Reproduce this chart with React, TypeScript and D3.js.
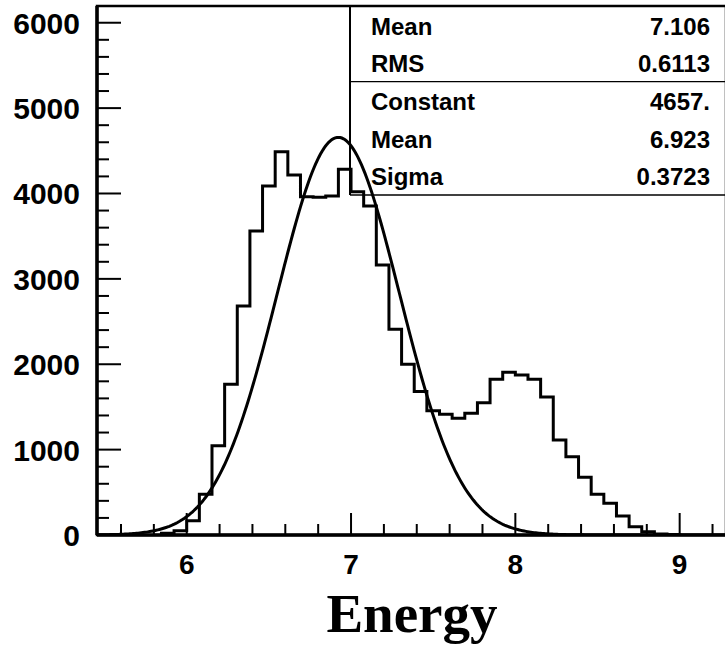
import React, { useEffect, useRef } from "react";
import * as d3 from "d3";

// histogram: bins of width 1/13 starting at binStart
const binStart = 6 - 2 / 13;
const binWidth = 1 / 13;
const counts = [
  20, 50, 167, 476, 1046, 1765, 2682, 3560, 4087, 4489, 4216, 3962, 3955,
  3970, 4283, 4021, 3853, 3162, 2409, 1999, 1680, 1455, 1413, 1367, 1425,
  1550, 1823, 1905, 1874, 1823, 1615, 1113, 917, 676, 477, 371, 222, 97, 39,
  12, 5,
];

// gaus fit parameters (from the stats box)
const fitConstant = 4657;
const fitMean = 6.923;
const fitSigma = 0.3723;

const statsTop = [
  ["Mean", "7.106"],
  ["RMS", "0.6113"],
];
const statsFit = [
  ["Constant", "4657."],
  ["Mean", "6.923"],
  ["Sigma", "0.3723"],
];

const xMajor = [6, 7, 8, 9];
const yMajor = [0, 1000, 2000, 3000, 4000, 5000, 6000];

const W = 725;
const H = 645;

const App: React.FC = () => {
  const svgRef = useRef<SVGSVGElement | null>(null);

  useEffect(() => {
    document.body.style.margin = "0";
    if (!svgRef.current) return;
    const svg = d3.select(svgRef.current);
    svg.selectAll("*").remove();

    const left = 97;
    const right = 726;
    const top = 6;
    const bottom = 535;

    const x = d3.scaleLinear().domain([5.454, 9.282]).range([left, right]);
    const y = d3.scaleLinear().domain([0, 6196]).range([bottom, top]);

    svg
      .append("defs")
      .append("clipPath")
      .attr("id", "frame")
      .append("rect")
      .attr("x", left)
      .attr("y", top)
      .attr("width", right - left)
      .attr("height", bottom - top);

    const plot = svg.append("g").attr("clip-path", "url(#frame)");

    // histogram outline
    const pts: [number, number][] = [[binStart, 0]];
    counts.forEach((c, i) => {
      pts.push([binStart + i * binWidth, c]);
      pts.push([binStart + (i + 1) * binWidth, c]);
    });
    pts.push([binStart + counts.length * binWidth, 0]);
    const line = d3
      .line<[number, number]>()
      .x((d) => x(d[0]))
      .y((d) => y(d[1]));
    plot
      .append("path")
      .datum(pts)
      .attr("fill", "none")
      .attr("stroke", "#000")
      .attr("stroke-width", 3)
      .attr("stroke-linejoin", "miter")
      .attr("d", line);

    // fitted gaussian
    const xs = d3.range(5.454, 9.282, 0.01);
    const curve = xs.map(
      (v) =>
        [
          v,
          fitConstant * Math.exp(-0.5 * ((v - fitMean) / fitSigma) ** 2),
        ] as [number, number]
    );
    plot
      .append("path")
      .datum(curve)
      .attr("fill", "none")
      .attr("stroke", "#000")
      .attr("stroke-width", 3)
      .attr("d", line);

    // frame
    svg
      .append("rect")
      .attr("x", left)
      .attr("y", top)
      .attr("width", right - left)
      .attr("height", bottom - top)
      .attr("fill", "none")
      .attr("stroke", "#000")
      .attr("stroke-width", 2.5);
    svg
      .append("line")
      .attr("x1", left)
      .attr("x2", right)
      .attr("y1", bottom)
      .attr("y2", bottom)
      .attr("stroke", "#000")
      .attr("stroke-width", 3.5);
    svg
      .append("line")
      .attr("x1", left)
      .attr("x2", left)
      .attr("y1", top)
      .attr("y2", bottom)
      .attr("stroke", "#000")
      .attr("stroke-width", 3.5);

    // ticks
    const xMinor = d3.range(5.6, 9.25, 0.2);
    const axes = svg.append("g").attr("stroke", "#000").attr("stroke-width", 2);
    xMinor.forEach((v) => {
      const major = xMajor.some((m) => Math.abs(m - v) < 1e-6);
      axes
        .append("line")
        .attr("x1", x(v))
        .attr("x2", x(v))
        .attr("y1", bottom)
        .attr("y2", bottom - (major ? 22 : 11));
    });
    const yMinor = d3.range(200, 6001, 200);
    yMinor.forEach((v) => {
      const major = yMajor.includes(v);
      axes
        .append("line")
        .attr("x1", left)
        .attr("x2", left + (major ? 24 : 12))
        .attr("y1", y(v))
        .attr("y2", y(v));
    });

    const font = "'Liberation Sans', Arial, Helvetica, sans-serif";
    svg
      .append("g")
      .selectAll("text")
      .data(xMajor)
      .join("text")
      .attr("x", (d) => x(d))
      .attr("y", 574)
      .attr("text-anchor", "middle")
      .attr("font-family", font)
      .attr("font-weight", "bold")
      .attr("font-size", 28)
      .text((d) => d);
    svg
      .append("g")
      .selectAll("text")
      .data(yMajor)
      .join("text")
      .attr("x", 80)
      .attr("y", (d) => y(d) + 11)
      .attr("text-anchor", "end")
      .attr("font-family", font)
      .attr("font-weight", "bold")
      .attr("font-size", 30)
      .text((d) => d);

    svg
      .append("text")
      .attr("x", 412)
      .attr("y", 632)
      .attr("text-anchor", "middle")
      .attr("font-family", "'Liberation Serif', 'Times New Roman', serif")
      .attr("font-weight", "bold")
      .attr("font-size", 55)
      .text("Energy");

    // stats box
    const bx = 350;
    const sepY = 81.7;
    const boxBottom = 195;
    svg
      .append("line")
      .attr("x1", bx)
      .attr("x2", bx)
      .attr("y1", top)
      .attr("y2", boxBottom)
      .attr("stroke", "#000")
      .attr("stroke-width", 2);
    svg
      .append("line")
      .attr("x1", bx)
      .attr("x2", right)
      .attr("y1", sepY)
      .attr("y2", sepY)
      .attr("stroke", "#000")
      .attr("stroke-width", 1.2);
    svg
      .append("line")
      .attr("x1", bx)
      .attr("x2", right)
      .attr("y1", boxBottom)
      .attr("y2", boxBottom)
      .attr("stroke", "#000")
      .attr("stroke-width", 1.5);

    const rows = [...statsTop, ...statsFit];
    const baselines = [35, 71.7, 110, 148.3, 185];
    const stats = svg
      .append("g")
      .attr("font-family", font)
      .attr("font-weight", "bold")
      .attr("font-size", 24);
    rows.forEach(([label, value], i) => {
      stats
        .append("text")
        .attr("x", 371)
        .attr("y", baselines[i])
        .text(label);
      stats
        .append("text")
        .attr("x", 710)
        .attr("y", baselines[i])
        .attr("text-anchor", "end")
        .text(value);
    });
  }, []);

  return <svg ref={svgRef} width={W} height={H} style={{ display: "block" }}></svg>;
};

export default App;
